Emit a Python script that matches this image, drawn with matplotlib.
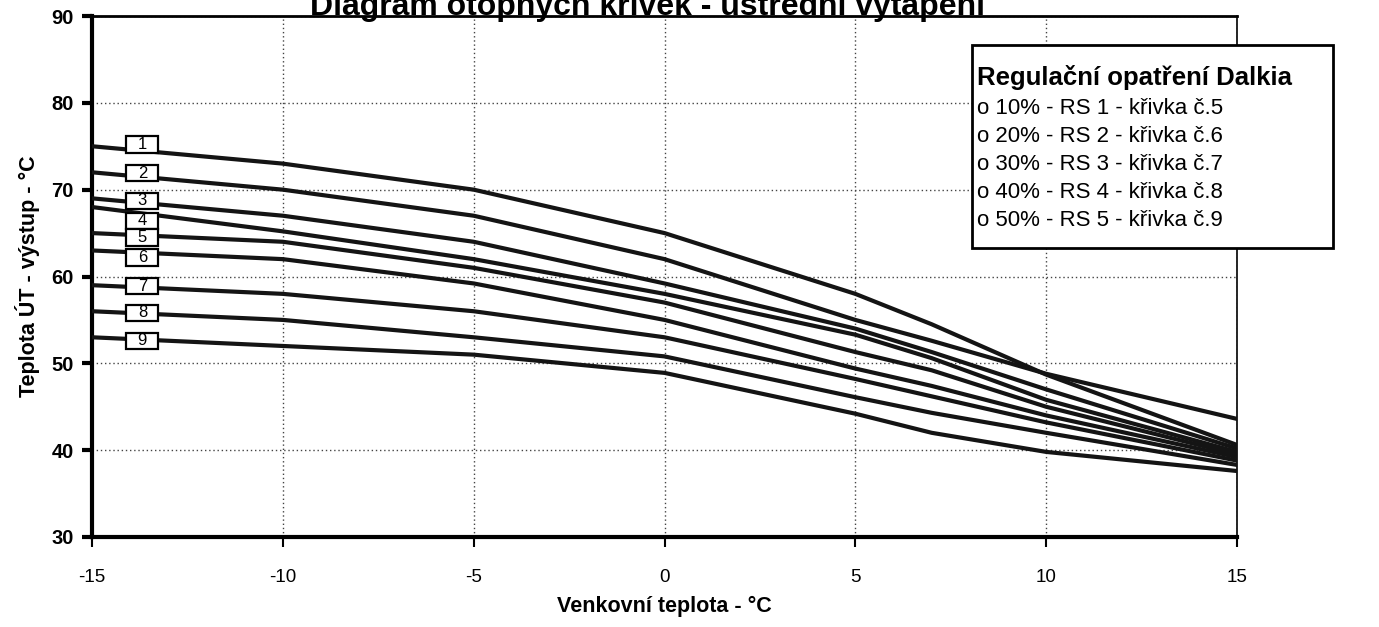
import matplotlib
matplotlib.use("Agg")
import matplotlib.pyplot as plt
from matplotlib.patches import Rectangle

plt.rcParams['font.family'] = ['Liberation Sans', 'DejaVu Sans']

# venkovni teplota (x) a teploty UT pro krivky 1-9
x_temp = [-15, -10, -5, 0, 5, 7, 10, 15]
k1 = [75, 73, 70, 65, 58, 54.5, 48.7, 40.6]
k2 = [72, 70, 67, 62, 55, 52.6, 48.8, 43.6]
k3 = [69, 67, 64, 59.2, 54, 51.3, 47.0, 40.2]
k4 = [68, 65.2, 62, 58, 53.3, 50.6, 45.8, 39.8]
k5 = [65, 64, 61, 57, 51.3, 49.2, 45.0, 39.5]
k6 = [63, 62, 59.2, 55, 49.4, 47.4, 44.0, 39.2]
k7 = [59, 58, 56, 53, 48.2, 46.2, 43.2, 38.8]
k8 = [56, 55, 53, 50.8, 46.1, 44.3, 42.0, 38.3]
k9 = [53, 52, 51, 48.9, 44.2, 42.0, 39.8, 37.6]
krivky = [k1, k2, k3, k4, k5, k6, k7, k8, k9]
popisky = ["1", "2", "3", "4", "5", "6", "7", "8", "9"]
popisky_y = [75.2, 71.9, 68.7, 66.4, 64.5, 62.2, 58.9, 55.8, 52.6]

x_ticks = [-15, -10, -5, 0, 5, 10, 15]
y_ticks = [30, 40, 50, 60, 70, 80, 90]

legenda_nadpis = "Regulační opatření Dalkia"
legenda = ["o 10% - RS 1 - křivka č.5",
           "o 20% - RS 2 - křivka č.6",
           "o 30% - RS 3 - křivka č.7",
           "o 40% - RS 4 - křivka č.8",
           "o 50% - RS 5 - křivka č.9"]

fig = plt.figure(figsize=(13.79, 6.27), dpi=100)
ax = fig.add_axes([92/1379, 90/627, 1145/1379, 521/627])

for k in krivky:
    ax.plot(x_temp, k, color='#141414', lw=3, solid_joinstyle='round', zorder=3)

# cisla krivek v rameckach
bw, bh = 0.84, 1.9
for t, yy in zip(popisky, popisky_y):
    ax.add_patch(Rectangle((-14.1, yy - bh/2), bw, bh, facecolor='white',
                           edgecolor='black', lw=1.6, zorder=4))
    ax.text(-14.1 + bw/2, yy, t, ha='center', va='center', fontsize=12, zorder=5)

ax.set_xlim(-15, 15)
ax.set_ylim(30, 90)
ax.set_xticks(x_ticks)
ax.set_yticks(y_ticks)
ax.set_xticklabels([str(v) for v in x_ticks], fontsize=13.5)
ax.set_yticklabels([str(v) for v in y_ticks], fontsize=14.5, fontweight='bold')
ax.grid(True, color='#444444', ls=(0, (1, 2)), lw=1)
ax.tick_params(axis='y', direction='out', length=7, width=3, pad=6)
ax.tick_params(axis='x', direction='out', length=7, width=1.5, pad=16)

for s in ['left', 'bottom']:
    ax.spines[s].set_linewidth(3)
ax.spines['top'].set_linewidth(2)
ax.spines['right'].set_linewidth(1.2)

ax.set_xlabel("Venkovní teplota - °C", fontsize=15.5, fontweight='bold', labelpad=7)
ax.set_ylabel("Teplota ÚT - výstup - °C", fontsize=15.5, fontweight='bold', labelpad=8)

fig.text(648/1379, 1 - 14.5/627, "Diagram otopných křivek - ústřední vytápění",
         ha='center', va='baseline', fontsize=23, fontweight='bold')

# legenda - ramecek (presahuje pravy okraj grafu)
lx0, lx1 = 972/1379, 1333/1379
ly0, ly1 = 1 - 248/627, 1 - 45/627
fig.patches.append(Rectangle((lx0, ly0), lx1 - lx0, ly1 - ly0, transform=fig.transFigure,
                             facecolor='white', edgecolor='black', lw=2, zorder=5))
fig.text(977/1379, 1 - 77/627, legenda_nadpis, ha='left', va='center',
         fontsize=18.5, fontweight='bold', zorder=6)
for i, t in enumerate(legenda):
    fig.text(977/1379, 1 - (108 + 28.1*i)/627, t, ha='left', va='center',
             fontsize=16, zorder=6)

fig.savefig("out.png", dpi=100)
